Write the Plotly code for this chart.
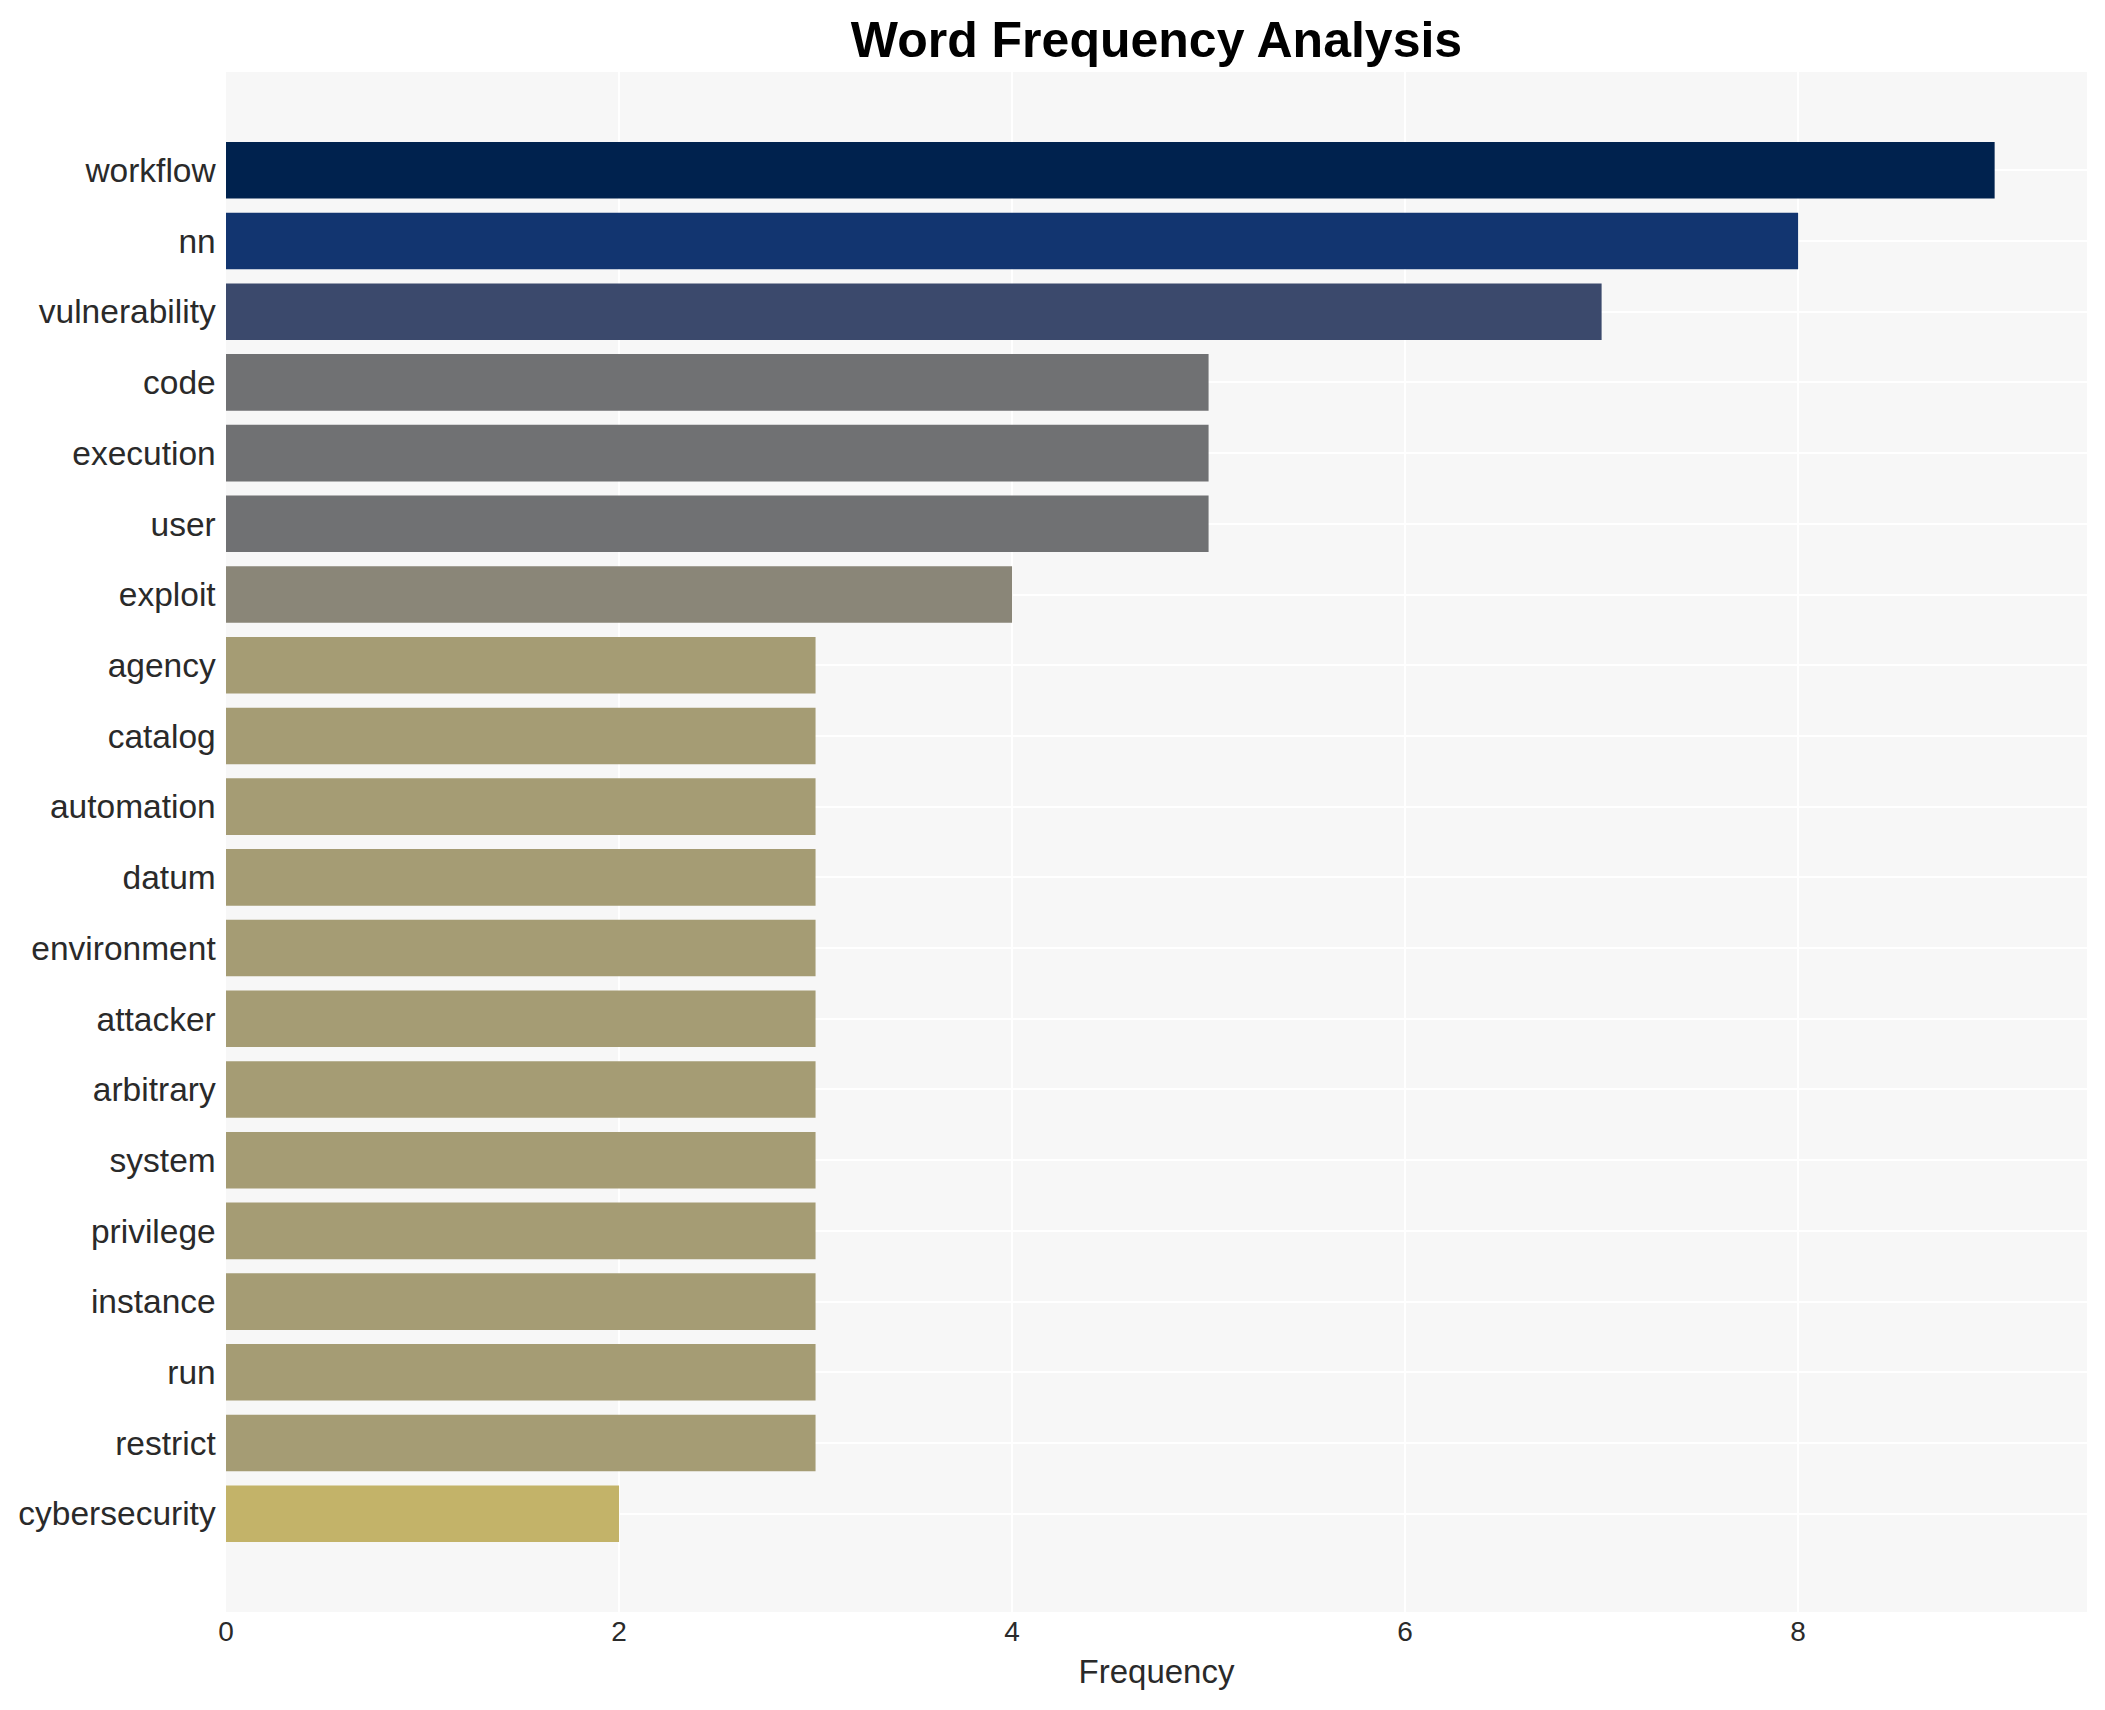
import plotly.graph_objects as go

words = ["workflow", "nn", "vulnerability", "code", "execution", "user", "exploit",
         "agency", "catalog", "automation", "datum", "environment", "attacker",
         "arbitrary", "system", "privilege", "instance", "run", "restrict", "cybersecurity"]
counts = [9, 8, 7, 5, 5, 5, 4, 3, 3, 3, 3, 3, 3, 3, 3, 3, 3, 3, 3, 2]
x_ticks = [0, 2, 4, 6, 8]

FONT = "Liberation Sans, Arial, sans-serif"
W, H = 2089, 1694

fig = go.Figure(go.Bar(
    x=counts,
    y=words,
    orientation="h",
    width=0.8,
    marker=dict(color=counts, colorscale="Cividis", reversescale=True, cmin=0, cmax=9,
                line=dict(width=0)),
))

fig.update_layout(
    width=W, height=H,
    margin=dict(l=218, r=10, t=64, b=90),
    paper_bgcolor="white",
    plot_bgcolor="#f7f7f7",
    title=dict(text="<b>Word Frequency Analysis</b>", x=0.5, xref="paper", xanchor="center",
               y=1 - 31 / H, yanchor="middle",
               font=dict(family=FONT, size=50, color="black")),
    font=dict(family=FONT, size=33, color="#2a2a2a"),
    showlegend=False,
    bargap=0.2,
)
fig.update_xaxes(
    title=dict(text="Frequency", font=dict(size=33, color="#2a2a2a"), standoff=13),
    tickvals=x_ticks, ticktext=[str(v) for v in x_ticks],
    range=[0, 9.47],
    showgrid=True, gridcolor="white", gridwidth=2,
    zeroline=False, showline=False, ticks="",
    automargin=False,
    tickfont=dict(size=28, color="#2a2a2a"),
)
fig.update_yaxes(
    categoryorder="array", categoryarray=words[::-1],
    range=[-1.39, 20.39],
    showgrid=True, gridcolor="white", gridwidth=2,
    zeroline=False, showline=False, ticks="",
    ticksuffix=" ",
    automargin=False,
    tickfont=dict(size=33.5, color="#2a2a2a"),
)

fig.write_html("out.html")
